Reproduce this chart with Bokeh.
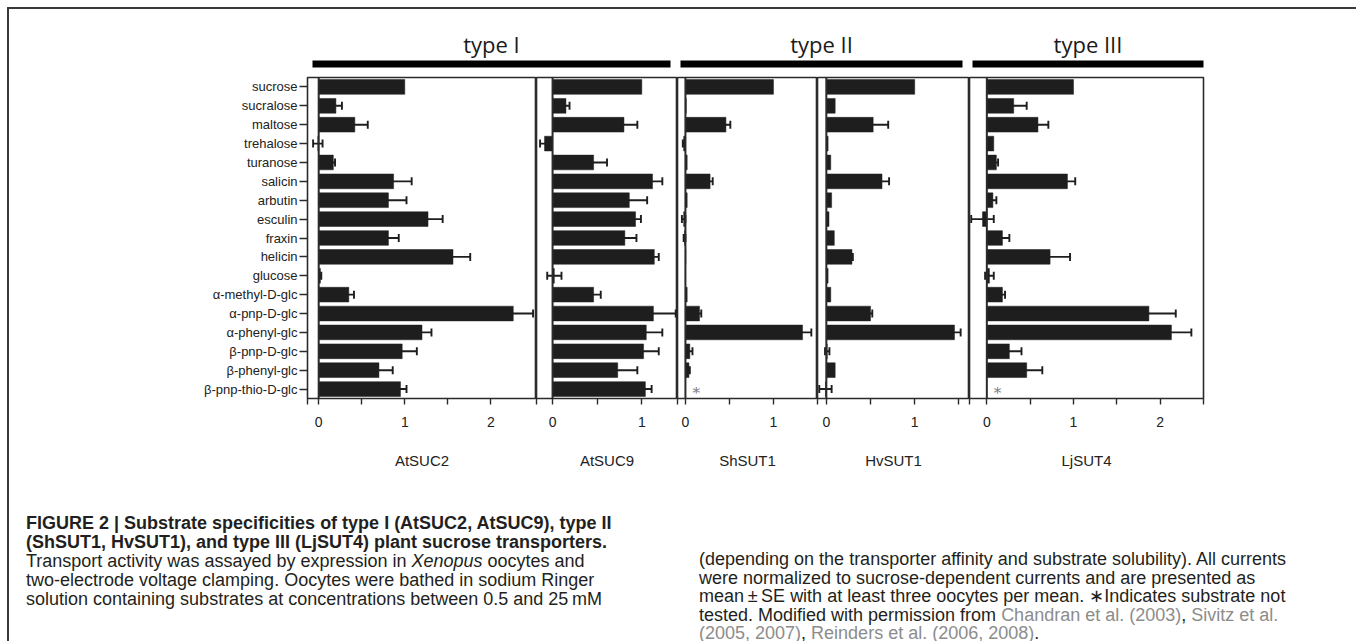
from bokeh.plotting import figure
from bokeh.models import (FactorRange, Range1d, FixedTicker, CustomJSTickFormatter, Span,
                          Whisker, TeeHead, ColumnDataSource, Label, Div, BoxAnnotation)
from bokeh.layouts import row, column
from bokeh.embed import file_html
from bokeh.resources import INLINE
from bokeh.core.properties import value

# ---------------- data ----------------
substrates = ["sucrose", "sucralose", "maltose", "trehalose", "turanose", "salicin",
              "arbutin", "esculin", "fraxin", "helicin", "glucose", "α-methyl-D-glc",
              "α-pnp-D-glc", "α-phenyl-glc", "β-pnp-D-glc", "β-phenyl-glc",
              "β-pnp-thio-D-glc"]

transporters = ["AtSUC2", "AtSUC9", "ShSUT1", "HvSUT1", "LjSUT4"]

AtSUC2_val = [1.0, 0.20, 0.42, -0.01, 0.17, 0.87, 0.81, 1.27, 0.81, 1.56, 0.02, 0.35, 2.26, 1.20, 0.97, 0.70, 0.95]
AtSUC2_err = [0.0, 0.07, 0.15, 0.055, 0.02, 0.21, 0.21, 0.17, 0.12, 0.20, 0.01, 0.06, 0.23, 0.11, 0.17, 0.16, 0.07]

AtSUC9_val = [1.0, 0.15, 0.80, -0.09, 0.46, 1.12, 0.86, 0.93, 0.81, 1.14, 0.02, 0.46, 1.13, 1.05, 1.02, 0.73, 1.04]
AtSUC9_err = [0.0, 0.04, 0.15, 0.05, 0.15, 0.11, 0.20, 0.06, 0.13, 0.05, 0.08, 0.08, 0.25, 0.18, 0.17, 0.22, 0.07]

ShSUT1_val = [1.0, 0.01, 0.46, -0.02, 0.02, 0.28, 0.02, -0.02, -0.01, 0.005, 0.0, 0.02, 0.16, 1.33, 0.05, 0.04, None]
ShSUT1_err = [0.0, 0.0, 0.05, 0.01, 0.0, 0.03, 0.0, 0.02, 0.01, 0.0, 0.0, 0.0, 0.02, 0.10, 0.03, 0.01, None]

HvSUT1_val = [1.0, 0.10, 0.53, 0.02, 0.05, 0.63, 0.06, 0.03, 0.09, 0.29, 0.02, 0.05, 0.50, 1.45, 0.01, 0.10, -0.01]
HvSUT1_err = [0.0, 0.0, 0.17, 0.0, 0.0, 0.08, 0.0, 0.0, 0.0, 0.01, 0.0, 0.0, 0.02, 0.07, 0.025, 0.0, 0.07]

LjSUT4_val = [1.0, 0.31, 0.59, 0.08, 0.11, 0.93, 0.07, -0.05, 0.18, 0.73, 0.03, 0.18, 1.87, 2.13, 0.26, 0.46, None]
LjSUT4_err = [0.0, 0.15, 0.12, 0.0, 0.02, 0.09, 0.04, 0.13, 0.08, 0.23, 0.05, 0.03, 0.31, 0.23, 0.14, 0.18, None]

x_limits = {"AtSUC2": (-0.13, 2.53), "AtSUC9": (-0.18, 1.40), "ShSUT1": (-0.09, 1.50),
            "HvSUT1": (-0.10, 1.62), "LjSUT4": (-0.20, 2.50)}
x_ticks = {"AtSUC2": [0, 0.5, 1, 1.5, 2], "AtSUC9": [0, 0.5, 1], "ShSUT1": [0, 0.5, 1],
           "HvSUT1": [0, 0.5, 1, 1.5], "LjSUT4": [0, 0.5, 1, 1.5, 2]}

type_labels = ["type I", "type II", "type III"]
type_members = [(0, 2), (2, 4), (4, 5)]   # panel index spans

series = {"AtSUC2": (AtSUC2_val, AtSUC2_err), "AtSUC9": (AtSUC9_val, AtSUC9_err),
          "ShSUT1": (ShSUT1_val, ShSUT1_err), "HvSUT1": (HvSUT1_val, HvSUT1_err),
          "LjSUT4": (LjSUT4_val, LjSUT4_err)}

# ---------------- layout (page pixels) ----------------
PAGE_LEFT = 10
FRAME_EDGES = [308, 537, 678, 818, 970, 1204]
TOTAL_W = 1342
HEADER_H = 67
PANEL_TOP = 1
FRAME_H = 321
PANEL_BOTTOM = 86
PANEL_H = PANEL_TOP + FRAME_H + PANEL_BOTTOM
CAP_H = 157

INK = "#1e1e1e"
LINE = "#2b2b2b"
FONT = "Liberation Sans"

fmt = CustomJSTickFormatter(code="return Math.abs(tick - Math.round(tick)) < 1e-6 ? Math.round(tick).toString() : '';")

panels = []
for i, name in enumerate(transporters):
    vals, errs = series[name]
    lo, hi = x_limits[name]
    if i == 0:
        width = FRAME_EDGES[1] - PAGE_LEFT
        mbl = FRAME_EDGES[0] - PAGE_LEFT
        mbr = 0
    elif i == len(transporters) - 1:
        width = PAGE_LEFT + TOTAL_W - FRAME_EDGES[i]
        mbl = 0
        mbr = PAGE_LEFT + TOTAL_W - FRAME_EDGES[i + 1]
    else:
        width = FRAME_EDGES[i + 1] - FRAME_EDGES[i]
        mbl = 0
        mbr = 0
    p = figure(width=width, height=PANEL_H, x_range=Range1d(lo, hi),
               y_range=FactorRange(factors=list(reversed(substrates))),
               output_backend="svg", toolbar_location=None,
               y_axis_location="left" if i == 0 else None,
               min_border_left=mbl, min_border_right=mbr,
               min_border_top=PANEL_TOP, min_border_bottom=PANEL_BOTTOM)
    p.grid.visible = False
    p.outline_line_color = LINE
    p.outline_line_width = 1.6
    p.background_fill_color = "white"
    p.border_fill_color = "white"

    bar_src = ColumnDataSource(dict(
        sub=[s for s, v in zip(substrates, vals) if v is not None],
        val=[v for v in vals if v is not None]))
    p.hbar(y="sub", left=0, right="val", height=0.78, source=bar_src,
           fill_color=INK, line_color=INK, line_width=0.5)

    e_sub, e_lo, e_hi = [], [], []
    for s, v, e in zip(substrates, vals, errs):
        if v is not None and e:
            e_sub.append(s); e_lo.append(v - e); e_hi.append(v + e)
    err_src = ColumnDataSource(dict(sub=e_sub, lo=e_lo, hi=e_hi))
    w = Whisker(source=err_src, base="sub", lower="lo", upper="hi", dimension="width",
                line_color=INK, line_width=1.9,
                upper_head=TeeHead(size=8, line_color=INK, line_width=1.9),
                lower_head=TeeHead(size=8, line_color=INK, line_width=1.9))
    p.add_layout(w)

    p.add_layout(Span(location=0, dimension="height", line_color=LINE, line_width=2))

    nt = [s for s, v in zip(substrates, vals) if v is None]
    if nt:
        p.text(x=[0] * len(nt), y=nt, text=["*"] * len(nt), x_offset=7, y_offset=4,
               text_baseline="middle", text_align="left", text_color="#7a7a7a",
               text_font_size="15px", text_font=value("DejaVu Serif"))

    ax = p.xaxis[0]
    ax.ticker = FixedTicker(ticks=[lo + 0.001] + x_ticks[name] + [hi - 0.001], minor_ticks=[])
    ax.formatter = fmt
    ax.axis_line_color = None
    ax.major_tick_in = 0
    ax.major_tick_out = 6
    ax.major_tick_line_color = LINE
    ax.major_tick_line_width = 1.4
    ax.minor_tick_line_color = None
    ax.major_label_standoff = 12
    ax.major_label_text_font = FONT
    ax.major_label_text_font_size = "14px"
    ax.major_label_text_color = "#222222"
    ax.axis_label = name
    ax.axis_label_standoff = 22
    ax.axis_label_text_font = FONT
    ax.axis_label_text_font_size = "15px"
    ax.axis_label_text_font_style = "normal"
    ax.axis_label_text_color = "#222222"

    if i == 0:
        ya = p.yaxis[0]
        ya.axis_line_color = None
        ya.major_tick_in = 0
        ya.major_tick_out = 8
        ya.major_tick_line_color = LINE
        ya.major_tick_line_width = 1.4
        ya.major_label_standoff = 2
        ya.major_label_text_font = FONT
        ya.major_label_text_font_size = "13px"
        ya.major_label_text_color = "#222222"
    panels.append(p)

# ---------------- header with type bars ----------------
h = figure(width=TOTAL_W, height=HEADER_H, x_range=Range1d(PAGE_LEFT, PAGE_LEFT + TOTAL_W),
           y_range=Range1d(HEADER_H, 0), output_backend="svg", toolbar_location=None,
           x_axis_location=None, y_axis_location=None,
           min_border_left=0, min_border_right=0, min_border_top=0, min_border_bottom=0)
h.grid.visible = False
h.outline_line_color = None
insets = [(5, 7), (3, 7), (3, 0)]
for lbl, (a, b), (il, ir) in zip(type_labels, type_members, insets):
    x0 = FRAME_EDGES[a] + il
    x1 = FRAME_EDGES[b] - ir
    h.add_layout(BoxAnnotation(left=x0, right=x1, top=51, bottom=58,
                               fill_color="black", fill_alpha=1, line_color=None))
    h.add_layout(Label(x=(x0 + x1) / 2, y=34, text=lbl, text_align="center",
                       text_baseline="middle", text_font="Open Sans",
                       text_font_size="22px", text_color="#1a1a1a"))

# ---------------- caption ----------------
GRAY = "#8c8c8c"
left_lines = [
    "<b>FIGURE 2 | Substrate specificities of type I (AtSUC2, AtSUC9), type II</b>",
    "<b>(ShSUT1, HvSUT1), and type III (LjSUT4) plant sucrose transporters.</b>",
    "Transport activity was assayed by expression in <i>Xenopus</i> oocytes and",
    "two-electrode voltage clamping. Oocytes were bathed in sodium Ringer",
    "solution containing substrates at concentrations between 0.5 and 25&thinsp;mM",
]
right_lines = [
    "(depending on the transporter affinity and substrate solubility). All currents",
    "were normalized to sucrose-dependent currents and are presented as",
    "mean&thinsp;±&thinsp;SE with at least three oocytes per mean. ∗Indicates substrate not",
    f'tested. Modified with permission from <span style="color:{GRAY}">Chandran et al. (2003)</span>, <span style="color:{GRAY}">Sivitz et al.</span>',
    f'<span style="color:{GRAY}">(2005, 2007)</span>, <span style="color:{GRAY}">Reinders et al. (2006, 2008)</span>.',
]
style_common = ("position:absolute;white-space:nowrap;font-family:Liberation Sans,Arial,sans-serif;"
                "font-size:18px;color:#231f20;")
html = (f'<div style="position:relative;width:{TOTAL_W}px;height:{CAP_H}px;overflow:hidden;">'
        f'<div style="{style_common}line-height:19px;left:12px;top:25px;">' + "<br>".join(left_lines) + "</div>"
        f'<div style="{style_common}line-height:18.5px;left:685px;top:61px;">' + "<br>".join(right_lines) + "</div>"
        "</div>")
cap = Div(text=html, width=TOTAL_W, height=CAP_H)

layout = column(h, row(*panels, spacing=0), cap, spacing=0,
                styles={"border": "2px solid #3a3a3a", "border-bottom": "none",
                        "background-color": "white", "margin-left": "7px", "margin-top": "7px"})

open("out.html", "w").write(file_html(layout, INLINE))
